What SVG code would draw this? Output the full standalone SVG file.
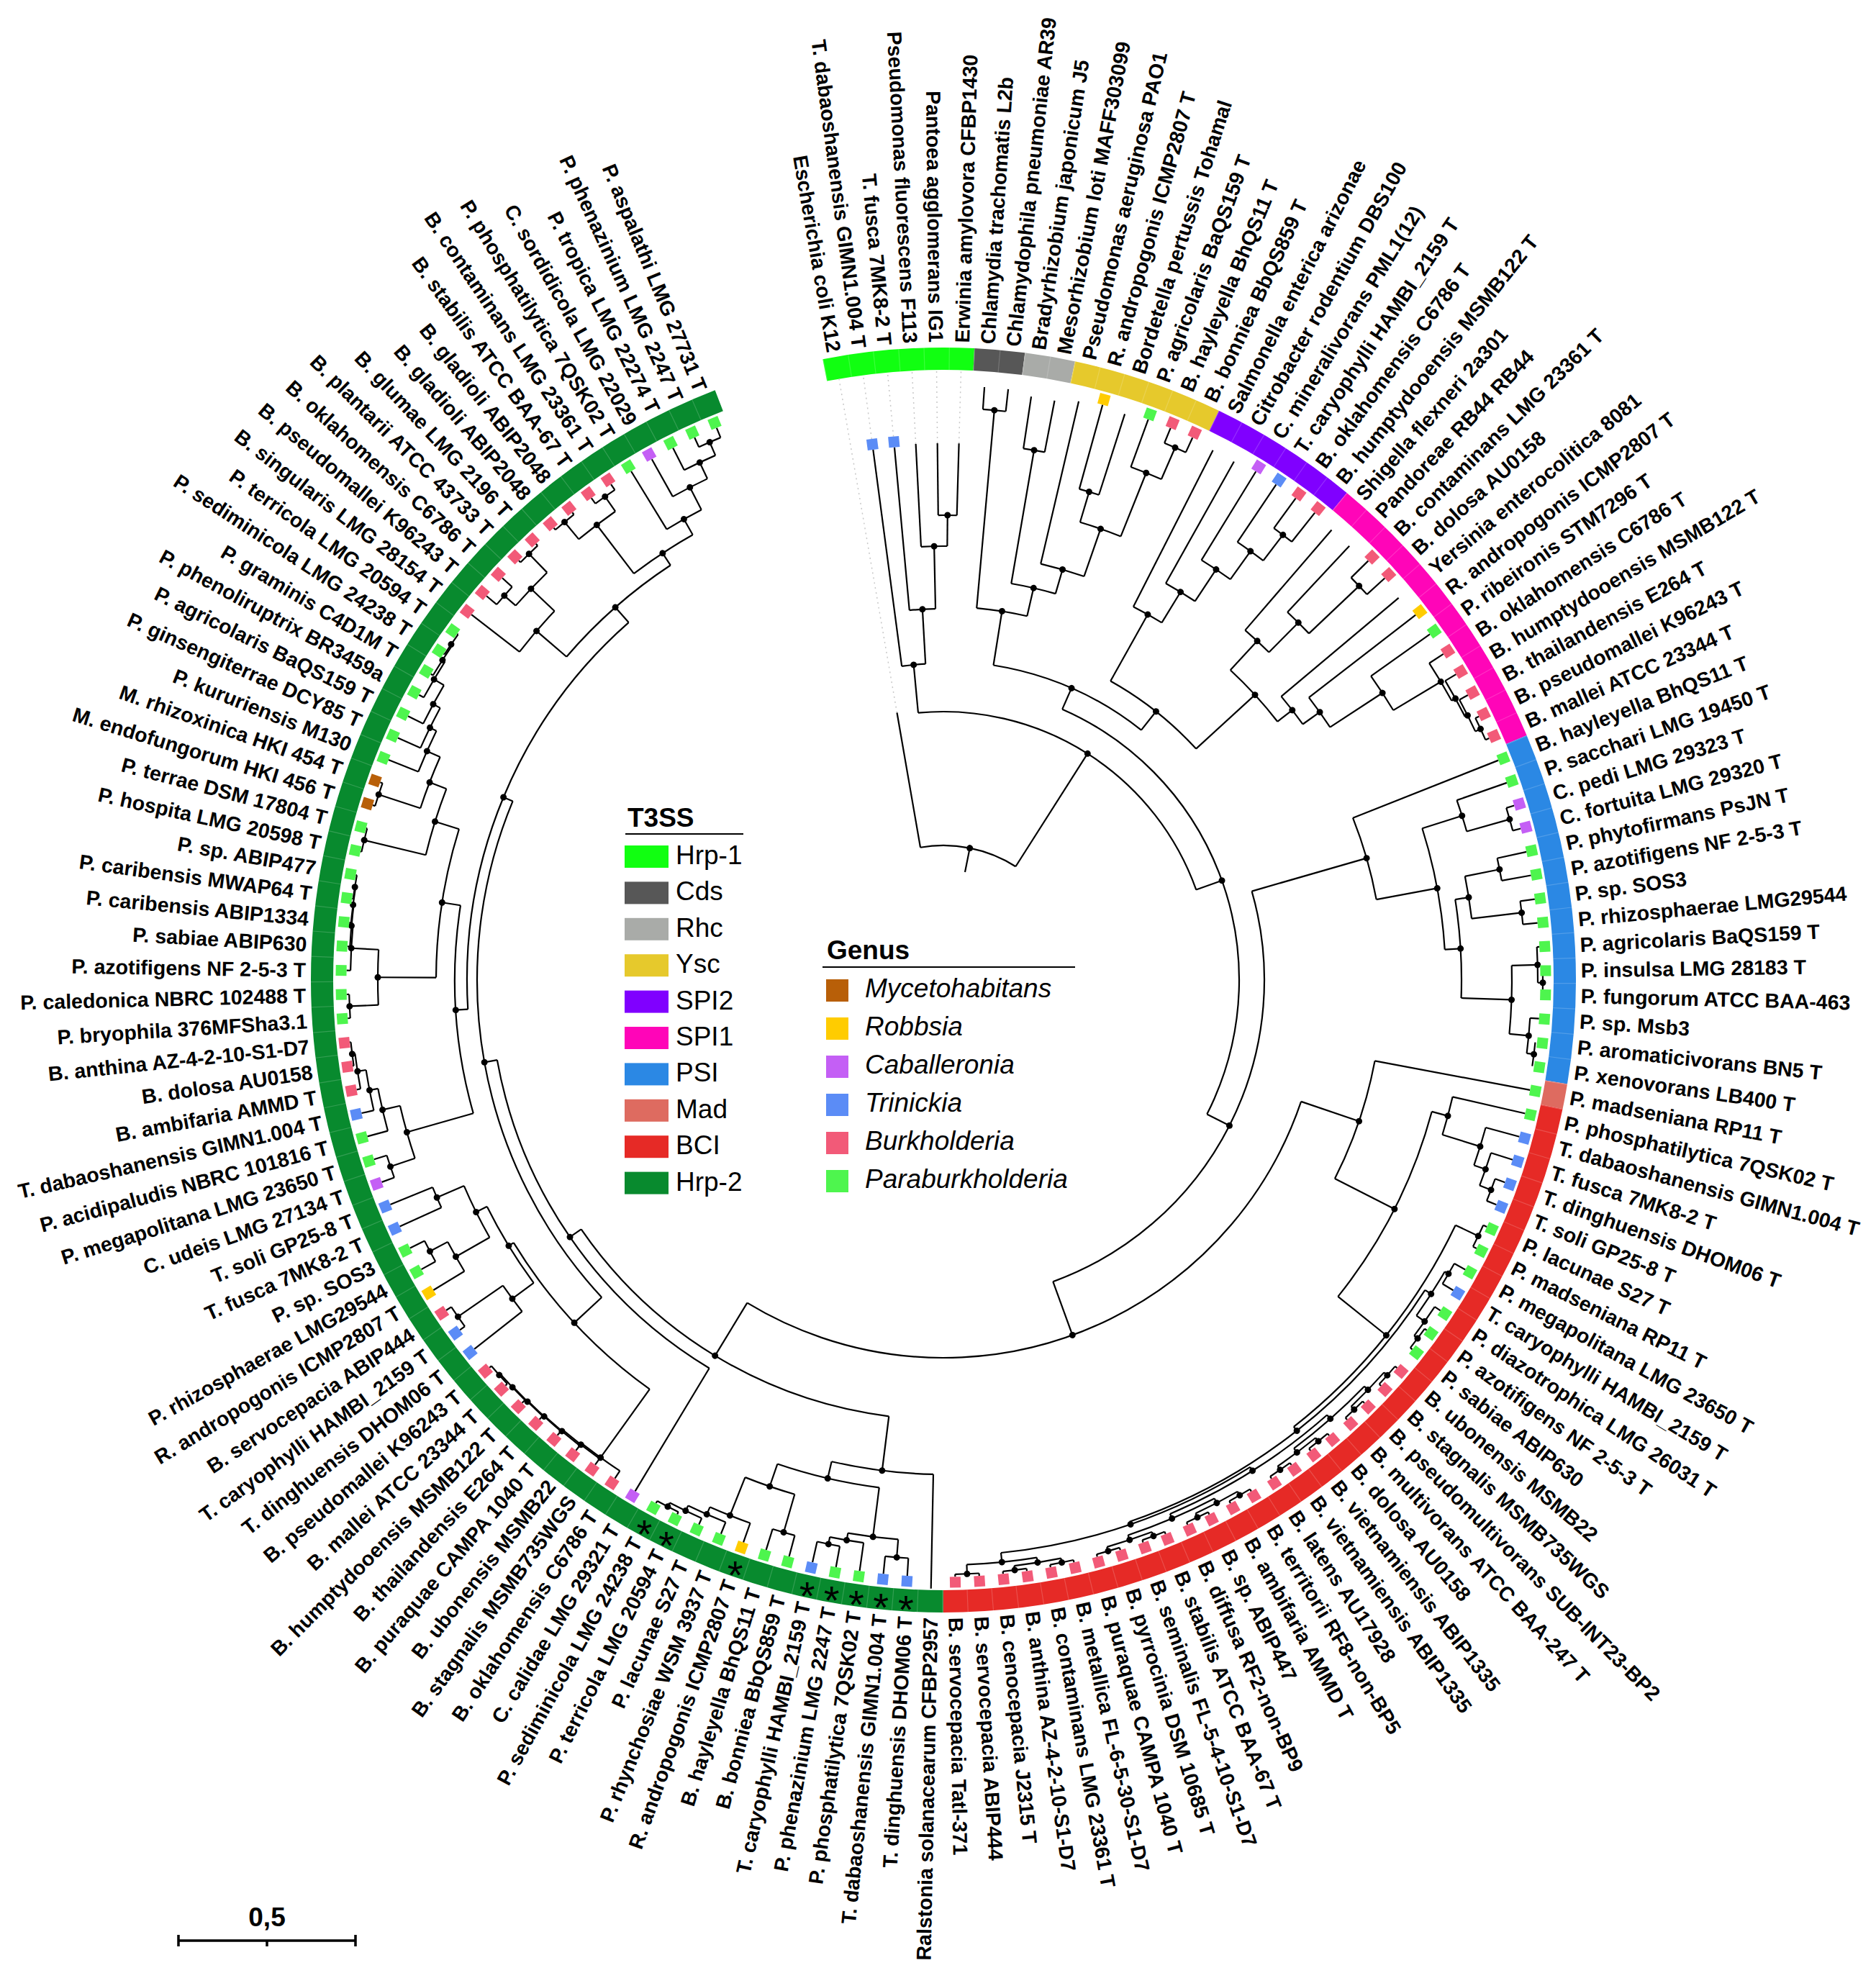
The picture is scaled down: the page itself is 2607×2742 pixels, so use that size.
<svg xmlns="http://www.w3.org/2000/svg" width="2607" height="2742" viewBox="0 0 2607 2742">
<style>
.l{font-family:"Liberation Sans",Arial,sans-serif;font-weight:bold;font-size:28.5px;fill:#000}
.f{text-anchor:end}
.gB{fill:#f25a78}.gP{fill:#4ef54e}.gT{fill:#5b8cf6}.gC{fill:#c45ff5}.gR{fill:#ffcc00}.gM{fill:#b85f08}
.t{fill:none;stroke:#000;stroke-width:2.2}
.d{fill:#000}
.dt{fill:none;stroke:#c8c8c8;stroke-width:1.5;stroke-dasharray:2 5}
.lg{font-family:"Liberation Sans",Arial,sans-serif;font-size:37px;fill:#000}
.lgt{font-family:"Liberation Sans",Arial,sans-serif;font-size:37px;font-weight:bold;fill:#000}
.ast{font-family:"Liberation Sans",Arial,sans-serif;font-size:56px;fill:#000;text-anchor:middle}
</style>
<rect width="2607" height="2742" fill="#fff"/>
<g id="ring" transform="translate(1311 1362)" fill="none" stroke-width="31">
<circle r="863.5" stroke="#11ff11" stroke-dasharray="208.11 6000" transform="rotate(-101)"/>
<circle r="863.5" stroke="#575757" stroke-dasharray="69.37 6000" transform="rotate(-87.1916)"/>
<circle r="863.5" stroke="#a9aba8" stroke-dasharray="69.37 6000" transform="rotate(-82.5888)"/>
<circle r="863.5" stroke="#e6c92c" stroke-dasharray="208.11 6000" transform="rotate(-77.986)"/>
<circle r="863.5" stroke="#8000ff" stroke-dasharray="208.11 6000" transform="rotate(-64.1776)"/>
<circle r="863.5" stroke="#ff05b8" stroke-dasharray="416.22 6000" transform="rotate(-50.3692)"/>
<circle r="863.5" stroke="#2b88e4" stroke-dasharray="485.59 6000" transform="rotate(-22.7524)"/>
<circle r="863.5" stroke="#de6b60" stroke-dasharray="34.685 6000" transform="rotate(9.4672)"/>
<circle r="863.5" stroke="#e62a26" stroke-dasharray="1179.29 6000" transform="rotate(11.7686)"/>
<circle r="863.5" stroke="#088a2e" stroke-dasharray="2393.27 6000" transform="rotate(90.0162)"/>
<circle r="863.5" stroke="#fff" stroke-opacity="0.18" stroke-dasharray="1.2 33.484" transform="rotate(-101)"/>
</g>
<g id="connectors" transform="translate(1311 1362)">
<g class="dt">
<path d="M377 0H848" transform="rotate(-99.85)"/><path d="M758.5 0H848" transform="rotate(-97.55)"/><path d="M758.5 0H848" transform="rotate(-95.25)"/>
<path d="M746 0H848" transform="rotate(-92.95)"/><path d="M746 0H848" transform="rotate(-90.64)"/><path d="M746 0H848" transform="rotate(-88.34)"/>
</g>
<g class="t">
<circle r="646" pathLength="360" stroke-dasharray="2.3 720" transform="rotate(-90.64)"/>
<path d="M646 0H746" transform="rotate(-90.64)"/><path d="M646 0H746" transform="rotate(-88.34)"/>
<circle r="603" pathLength="360" stroke-dasharray="3.46 720" transform="rotate(-92.95)"/>
<path d="M603 0H746" transform="rotate(-92.95)"/><path d="M603 0H646" transform="rotate(-89.49)"/>
<circle r="516" pathLength="360" stroke-dasharray="4.03 720" transform="rotate(-95.25)"/>
<path d="M516 0H743.5" transform="rotate(-95.25)"/><path d="M516 0H603" transform="rotate(-91.22)"/>
<circle r="440" pathLength="360" stroke-dasharray="4.315 720" transform="rotate(-97.55)"/>
<path d="M440 0H743.5" transform="rotate(-97.55)"/><path d="M440 0H516" transform="rotate(-93.235)"/>
<circle r="795" pathLength="360" stroke-dasharray="2.3 720" transform="rotate(-86.04)"/>
<path d="M795 0H826" transform="rotate(-86.04)"/><path d="M795 0H826" transform="rotate(-83.74)"/>
<circle r="747" pathLength="360" stroke-dasharray="2.3 720" transform="rotate(-81.44)"/>
<path d="M747 0H820" transform="rotate(-81.44)"/><path d="M747 0H820" transform="rotate(-79.14)"/>
<circle r="807" pathLength="360" stroke-dasharray="2.3 720" transform="rotate(-67.63)"/>
<path d="M807 0H829.5" transform="rotate(-67.63)"/><path d="M807 0H829.5" transform="rotate(-65.33)"/>
<circle r="759" pathLength="360" stroke-dasharray="3.45 720" transform="rotate(-69.93)"/>
<path d="M759 0H829.5" transform="rotate(-69.93)"/><path d="M759 0H807" transform="rotate(-66.48)"/>
<circle r="708" pathLength="360" stroke-dasharray="2.3 720" transform="rotate(-74.53)"/>
<path d="M708 0H829.5" transform="rotate(-74.53)"/><path d="M708 0H826" transform="rotate(-72.23)"/>
<circle r="664" pathLength="360" stroke-dasharray="5.175 720" transform="rotate(-73.38)"/>
<path d="M664 0H708" transform="rotate(-73.38)"/><path d="M664 0H759" transform="rotate(-68.205)"/>
<circle r="594" pathLength="360" stroke-dasharray="6.05 720" transform="rotate(-76.84)"/>
<path d="M594 0H826" transform="rotate(-76.84)"/><path d="M594 0H664" transform="rotate(-70.79)"/>
<circle r="559" pathLength="360" stroke-dasharray="6.475 720" transform="rotate(-80.29)"/>
<path d="M559 0H747" transform="rotate(-80.29)"/><path d="M559 0H594" transform="rotate(-73.815)"/>
<circle r="519" pathLength="360" stroke-dasharray="7.84 720" transform="rotate(-84.89)"/>
<path d="M519 0H795" transform="rotate(-84.89)"/><path d="M519 0H559" transform="rotate(-77.05)"/>
<circle r="778" pathLength="360" stroke-dasharray="2.3 720" transform="rotate(-53.82)"/>
<path d="M778 0H829.5" transform="rotate(-53.82)"/><path d="M778 0H829.5" transform="rotate(-51.52)"/>
<circle r="733" pathLength="360" stroke-dasharray="3.45 720" transform="rotate(-56.12)"/>
<path d="M733 0H829.5" transform="rotate(-56.12)"/><path d="M733 0H778" transform="rotate(-52.67)"/>
<circle r="685" pathLength="360" stroke-dasharray="4.035 720" transform="rotate(-58.43)"/>
<path d="M685 0H829.5" transform="rotate(-58.43)"/><path d="M685 0H733" transform="rotate(-54.395)"/>
<circle r="632" pathLength="360" stroke-dasharray="4.32 720" transform="rotate(-60.73)"/>
<path d="M632 0H826" transform="rotate(-60.73)"/><path d="M632 0H685" transform="rotate(-56.41)"/>
<circle r="582" pathLength="360" stroke-dasharray="4.46 720" transform="rotate(-63.03)"/>
<path d="M582 0H826" transform="rotate(-63.03)"/><path d="M582 0H632" transform="rotate(-58.57)"/>
<circle r="796" pathLength="360" stroke-dasharray="2.3 720" transform="rotate(-44.62)"/>
<path d="M796 0H829.5" transform="rotate(-44.62)"/><path d="M796 0H829.5" transform="rotate(-42.32)"/>
<circle r="700" pathLength="360" stroke-dasharray="3.45 720" transform="rotate(-46.92)"/>
<path d="M700 0H826" transform="rotate(-46.92)"/><path d="M700 0H796" transform="rotate(-43.47)"/>
<circle r="642" pathLength="360" stroke-dasharray="4.025 720" transform="rotate(-49.22)"/>
<path d="M642 0H826" transform="rotate(-49.22)"/><path d="M642 0H700" transform="rotate(-45.195)"/>
<circle r="824" pathLength="360" stroke-dasharray="2.31 720" transform="rotate(-26.21)"/>
<path d="M824 0H829.5" transform="rotate(-26.21)"/><path d="M824 0H829.5" transform="rotate(-23.9)"/>
<circle r="816" pathLength="360" stroke-dasharray="3.455 720" transform="rotate(-28.51)"/>
<path d="M816 0H829.5" transform="rotate(-28.51)"/><path d="M816 0H824" transform="rotate(-25.055)"/>
<circle r="812" pathLength="360" stroke-dasharray="4.03 720" transform="rotate(-30.81)"/>
<path d="M812 0H829.5" transform="rotate(-30.81)"/><path d="M812 0H816" transform="rotate(-26.78)"/>
<circle r="806" pathLength="360" stroke-dasharray="4.315 720" transform="rotate(-33.11)"/>
<path d="M806 0H829.5" transform="rotate(-33.11)"/><path d="M806 0H812" transform="rotate(-28.795)"/>
<circle r="729" pathLength="360" stroke-dasharray="4.46 720" transform="rotate(-35.41)"/>
<path d="M729 0H829.5" transform="rotate(-35.41)"/><path d="M729 0H806" transform="rotate(-30.95)"/>
<circle r="642" pathLength="360" stroke-dasharray="4.53 720" transform="rotate(-37.71)"/>
<path d="M642 0H829.5" transform="rotate(-37.71)"/><path d="M642 0H729" transform="rotate(-33.18)"/>
<circle r="613" pathLength="360" stroke-dasharray="4.565 720" transform="rotate(-40.01)"/>
<path d="M613 0H826" transform="rotate(-40.01)"/><path d="M613 0H642" transform="rotate(-35.445)"/>
<circle r="587" pathLength="360" stroke-dasharray="9.48 720" transform="rotate(-47.21)"/>
<path d="M587 0H642" transform="rotate(-47.21)"/><path d="M587 0H613" transform="rotate(-37.73)"/>
<circle r="476" pathLength="360" stroke-dasharray="18.33 720" transform="rotate(-60.8)"/>
<path d="M476 0H582" transform="rotate(-60.8)"/><path d="M476 0H587" transform="rotate(-42.47)"/>
<circle r="443" pathLength="360" stroke-dasharray="29.335 720" transform="rotate(-80.97)"/>
<path d="M443 0H519" transform="rotate(-80.97)"/><path d="M443 0H476" transform="rotate(-51.635)"/>
<circle r="411" pathLength="360" stroke-dasharray="93.28 720" transform="rotate(-66.3)"/>
<path d="M411 0H443" transform="rotate(-66.3)"/><path d="M411 0H446" transform="rotate(26.98)"/>
<circle r="373" pathLength="360" stroke-dasharray="75.73 720" transform="rotate(-95.39)"/>
<path d="M373 0H440" transform="rotate(-95.39)"/><path d="M373 0H411" transform="rotate(-19.66)"/>
<circle r="187" pathLength="360" stroke-dasharray="42.325 720" transform="rotate(-99.85)"/>
<path d="M187 0H377" transform="rotate(-99.85)"/><path d="M187 0H373" transform="rotate(-57.525)"/><path d="M153 0H187" transform="rotate(-78.69)"/>
<circle r="446" pathLength="360" stroke-dasharray="86.095 720" transform="rotate(-16.065)"/>
<path d="M446 0H612" transform="rotate(-16.065)"/><path d="M446 0H525" transform="rotate(70.03)"/>
<circle r="612" pathLength="360" stroke-dasharray="11.07 720" transform="rotate(-21.6)"/>
<path d="M612 0H829.5" transform="rotate(-21.6)"/><path d="M612 0H698" transform="rotate(-10.53)"/>
<circle r="818" pathLength="360" stroke-dasharray="2.3 720" transform="rotate(-17)"/>
<path d="M818 0H829.5" transform="rotate(-17)"/><path d="M818 0H829.5" transform="rotate(-14.7)"/>
<circle r="756" pathLength="360" stroke-dasharray="3.45 720" transform="rotate(-19.3)"/>
<path d="M756 0H829.5" transform="rotate(-19.3)"/><path d="M756 0H818" transform="rotate(-15.85)"/>
<circle r="788" pathLength="360" stroke-dasharray="2.3 720" transform="rotate(-12.4)"/>
<path d="M788 0H829.5" transform="rotate(-12.4)"/><path d="M788 0H829.5" transform="rotate(-10.1)"/>
<circle r="809" pathLength="360" stroke-dasharray="2.3 720" transform="rotate(-7.79)"/>
<path d="M809 0H829.5" transform="rotate(-7.79)"/><path d="M809 0H829.5" transform="rotate(-5.49)"/>
<circle r="739" pathLength="360" stroke-dasharray="4.61 720" transform="rotate(-11.25)"/>
<path d="M739 0H788" transform="rotate(-11.25)"/><path d="M739 0H809" transform="rotate(-6.64)"/>
<circle r="833" pathLength="360" stroke-dasharray="2.3 720" transform="rotate(-0.89)"/>
<circle r="826" pathLength="360" stroke-dasharray="3.45 720" transform="rotate(-3.19)"/>
<path d="M826 0H829.5" transform="rotate(-3.19)"/><path d="M826 0H833" transform="rotate(0.26)"/>
<circle r="827" pathLength="360" stroke-dasharray="2.31 720" transform="rotate(6.01)"/>
<circle r="817" pathLength="360" stroke-dasharray="3.455 720" transform="rotate(3.71)"/>
<path d="M817 0H829.5" transform="rotate(3.71)"/><path d="M817 0H827" transform="rotate(7.165)"/>
<circle r="790" pathLength="360" stroke-dasharray="6.905 720" transform="rotate(-1.465)"/>
<path d="M790 0H826" transform="rotate(-1.465)"/><path d="M790 0H817" transform="rotate(5.44)"/>
<circle r="720" pathLength="360" stroke-dasharray="10.935 720" transform="rotate(-8.945)"/>
<path d="M720 0H739" transform="rotate(-8.945)"/><path d="M720 0H790" transform="rotate(1.99)"/>
<circle r="698" pathLength="360" stroke-dasharray="14.095 720" transform="rotate(-17.575)"/>
<path d="M698 0H756" transform="rotate(-17.575)"/><path d="M698 0H720" transform="rotate(-3.48)"/>
<circle r="525" pathLength="360" stroke-dasharray="102.525 720" transform="rotate(18.765)"/>
<path d="M525 0H610" transform="rotate(18.765)"/><path d="M525 0H611" transform="rotate(121.29)"/>
<circle r="610" pathLength="360" stroke-dasharray="16.29 720" transform="rotate(10.62)"/>
<path d="M610 0H829.5" transform="rotate(10.62)"/><path d="M610 0H703" transform="rotate(26.91)"/>
<circle r="703" pathLength="360" stroke-dasharray="23.665 720" transform="rotate(15.075)"/>
<path d="M703 0H726" transform="rotate(15.075)"/><path d="M703 0H789" transform="rotate(38.74)"/>
<circle r="726" pathLength="360" stroke-dasharray="4.31 720" transform="rotate(12.92)"/>
<path d="M726 0H829.5" transform="rotate(12.92)"/><path d="M726 0H781" transform="rotate(17.23)"/>
<circle r="781" pathLength="360" stroke-dasharray="4.025 720" transform="rotate(15.22)"/>
<path d="M781 0H829.5" transform="rotate(15.22)"/><path d="M781 0H798" transform="rotate(19.245)"/>
<circle r="798" pathLength="360" stroke-dasharray="3.45 720" transform="rotate(17.52)"/>
<path d="M798 0H829.5" transform="rotate(17.52)"/><path d="M798 0H815" transform="rotate(20.97)"/>
<circle r="815" pathLength="360" stroke-dasharray="2.3 720" transform="rotate(19.82)"/>
<path d="M815 0H829.5" transform="rotate(19.82)"/><path d="M815 0H829.5" transform="rotate(22.12)"/>
<circle r="789" pathLength="360" stroke-dasharray="26.32 720" transform="rotate(25.58)"/>
<path d="M789 0H824" transform="rotate(25.58)"/><path d="M789 0H796" transform="rotate(51.9)"/>
<circle r="824" pathLength="360" stroke-dasharray="2.3 720" transform="rotate(24.43)"/>
<path d="M824 0H829.5" transform="rotate(24.43)"/><path d="M824 0H829.5" transform="rotate(26.73)"/>
<circle r="796" pathLength="360" stroke-dasharray="38.26 720" transform="rotate(32.77)"/>
<path d="M796 0H806" transform="rotate(32.77)"/><path d="M796 0H800" transform="rotate(71.03)"/>
<circle r="806" pathLength="360" stroke-dasharray="5.175 720" transform="rotate(30.18)"/>
<path d="M806 0H812" transform="rotate(30.18)"/><path d="M806 0H820" transform="rotate(35.355)"/>
<circle r="812" pathLength="360" stroke-dasharray="2.3 720" transform="rotate(29.03)"/>
<path d="M812 0H829.5" transform="rotate(29.03)"/><path d="M812 0H829.5" transform="rotate(31.33)"/>
<circle r="820" pathLength="360" stroke-dasharray="3.45 720" transform="rotate(33.63)"/>
<path d="M820 0H829.5" transform="rotate(33.63)"/><path d="M820 0H826" transform="rotate(37.08)"/>
<circle r="826" pathLength="360" stroke-dasharray="2.3 720" transform="rotate(35.93)"/>
<path d="M826 0H829.5" transform="rotate(35.93)"/><path d="M826 0H829.5" transform="rotate(38.23)"/>
<circle r="826" pathLength="360" stroke-dasharray="2.3 720" transform="rotate(40.54)"/>
<circle r="826" pathLength="360" stroke-dasharray="2.3 720" transform="rotate(45.14)"/>
<circle r="826" pathLength="360" stroke-dasharray="2.3 720" transform="rotate(49.74)"/>
<circle r="826" pathLength="360" stroke-dasharray="2.31 720" transform="rotate(54.34)"/>
<circle r="826" pathLength="360" stroke-dasharray="2.3 720" transform="rotate(58.95)"/>
<circle r="826" pathLength="360" stroke-dasharray="2.3 720" transform="rotate(63.55)"/>
<circle r="826" pathLength="360" stroke-dasharray="2.3 720" transform="rotate(68.15)"/>
<circle r="826" pathLength="360" stroke-dasharray="2.3 720" transform="rotate(72.76)"/>
<circle r="826" pathLength="360" stroke-dasharray="2.3 720" transform="rotate(77.36)"/>
<circle r="826" pathLength="360" stroke-dasharray="2.3 720" transform="rotate(81.96)"/>
<circle r="826" pathLength="360" stroke-dasharray="2.31 720" transform="rotate(86.56)"/>
<circle r="820" pathLength="360" stroke-dasharray="4.6 720" transform="rotate(41.69)"/>
<path d="M820 0H826" transform="rotate(41.69)"/><path d="M820 0H826" transform="rotate(46.29)"/>
<circle r="820" pathLength="360" stroke-dasharray="4.605 720" transform="rotate(50.89)"/>
<path d="M820 0H826" transform="rotate(50.89)"/><path d="M820 0H826" transform="rotate(55.495)"/>
<circle r="820" pathLength="360" stroke-dasharray="4.6 720" transform="rotate(60.1)"/>
<path d="M820 0H826" transform="rotate(60.1)"/><path d="M820 0H826" transform="rotate(64.7)"/>
<circle r="820" pathLength="360" stroke-dasharray="4.61 720" transform="rotate(69.3)"/>
<path d="M820 0H826" transform="rotate(69.3)"/><path d="M820 0H826" transform="rotate(73.91)"/>
<circle r="820" pathLength="360" stroke-dasharray="4.6 720" transform="rotate(78.51)"/>
<path d="M820 0H826" transform="rotate(78.51)"/><path d="M820 0H826" transform="rotate(83.11)"/>
<circle r="813" pathLength="360" stroke-dasharray="9.2 720" transform="rotate(43.99)"/>
<path d="M813 0H820" transform="rotate(43.99)"/><path d="M813 0H820" transform="rotate(53.19)"/>
<circle r="813" pathLength="360" stroke-dasharray="9.205 720" transform="rotate(62.4)"/>
<path d="M813 0H820" transform="rotate(62.4)"/><path d="M813 0H820" transform="rotate(71.605)"/>
<circle r="813" pathLength="360" stroke-dasharray="6.905 720" transform="rotate(80.81)"/>
<path d="M813 0H820" transform="rotate(80.81)"/><path d="M813 0H826" transform="rotate(87.715)"/>
<circle r="806" pathLength="360" stroke-dasharray="18.41 720" transform="rotate(48.59)"/>
<path d="M806 0H813" transform="rotate(48.59)"/><path d="M806 0H813" transform="rotate(67)"/>
<circle r="800" pathLength="360" stroke-dasharray="26.465 720" transform="rotate(57.795)"/>
<path d="M800 0H806" transform="rotate(57.795)"/><path d="M800 0H813" transform="rotate(84.26)"/>
<path d="M826 0H829.5" transform="rotate(40.54)"/><path d="M826 0H829.5" transform="rotate(42.84)"/>
<path d="M826 0H829.5" transform="rotate(45.14)"/><path d="M826 0H829.5" transform="rotate(47.44)"/>
<path d="M826 0H829.5" transform="rotate(49.74)"/><path d="M826 0H829.5" transform="rotate(52.04)"/>
<path d="M826 0H829.5" transform="rotate(54.34)"/><path d="M826 0H829.5" transform="rotate(56.65)"/>
<path d="M826 0H829.5" transform="rotate(58.95)"/><path d="M826 0H829.5" transform="rotate(61.25)"/>
<path d="M826 0H829.5" transform="rotate(63.55)"/><path d="M826 0H829.5" transform="rotate(65.85)"/>
<path d="M826 0H829.5" transform="rotate(68.15)"/><path d="M826 0H829.5" transform="rotate(70.45)"/>
<path d="M826 0H829.5" transform="rotate(72.76)"/><path d="M826 0H829.5" transform="rotate(75.06)"/>
<path d="M826 0H829.5" transform="rotate(77.36)"/><path d="M826 0H829.5" transform="rotate(79.66)"/>
<path d="M826 0H829.5" transform="rotate(81.96)"/><path d="M826 0H829.5" transform="rotate(84.26)"/>
<path d="M826 0H829.5" transform="rotate(86.56)"/><path d="M826 0H829.5" transform="rotate(88.87)"/>
<circle r="611" pathLength="360" stroke-dasharray="48.345 720" transform="rotate(97.12)"/>
<path d="M611 0H687" transform="rotate(97.12)"/><path d="M611 0H630" transform="rotate(145.465)"/>
<circle r="687" pathLength="360" stroke-dasharray="11.9 720" transform="rotate(91.17)"/>
<path d="M687 0H846" transform="rotate(91.17)"/><path d="M687 0H711" transform="rotate(103.07)"/>
<circle r="711" pathLength="360" stroke-dasharray="11.72 720" transform="rotate(97.21)"/>
<path d="M711 0H780" transform="rotate(97.21)"/><path d="M711 0H744" transform="rotate(108.93)"/>
<circle r="780" pathLength="360" stroke-dasharray="5.175 720" transform="rotate(94.62)"/>
<path d="M780 0H805" transform="rotate(94.62)"/><path d="M780 0H790" transform="rotate(99.795)"/>
<circle r="805" pathLength="360" stroke-dasharray="2.3 720" transform="rotate(93.47)"/>
<path d="M805 0H829.5" transform="rotate(93.47)"/><path d="M805 0H829.5" transform="rotate(95.77)"/>
<circle r="790" pathLength="360" stroke-dasharray="3.45 720" transform="rotate(98.07)"/>
<path d="M790 0H829.5" transform="rotate(98.07)"/><path d="M790 0H800" transform="rotate(101.52)"/>
<circle r="800" pathLength="360" stroke-dasharray="2.3 720" transform="rotate(100.37)"/>
<path d="M800 0H829.5" transform="rotate(100.37)"/><path d="M800 0H829.5" transform="rotate(102.67)"/>
<circle r="744" pathLength="360" stroke-dasharray="5.605 720" transform="rotate(106.13)"/>
<path d="M744 0H799" transform="rotate(106.13)"/><path d="M744 0H801" transform="rotate(111.735)"/>
<circle r="799" pathLength="360" stroke-dasharray="2.3 720" transform="rotate(104.98)"/>
<path d="M799 0H829.5" transform="rotate(104.98)"/><path d="M799 0H829.5" transform="rotate(107.28)"/>
<circle r="801" pathLength="360" stroke-dasharray="4.31 720" transform="rotate(109.58)"/>
<path d="M801 0H829.5" transform="rotate(109.58)"/><path d="M801 0H812" transform="rotate(113.89)"/>
<circle r="812" pathLength="360" stroke-dasharray="4.025 720" transform="rotate(111.88)"/>
<path d="M812 0H829.5" transform="rotate(111.88)"/><path d="M812 0H820" transform="rotate(115.905)"/>
<circle r="820" pathLength="360" stroke-dasharray="3.45 720" transform="rotate(114.18)"/>
<path d="M820 0H829.5" transform="rotate(114.18)"/><path d="M820 0H826" transform="rotate(117.63)"/>
<circle r="826" pathLength="360" stroke-dasharray="2.3 720" transform="rotate(116.48)"/>
<path d="M826 0H829.5" transform="rotate(116.48)"/><path d="M826 0H829.5" transform="rotate(118.78)"/>
<circle r="630" pathLength="360" stroke-dasharray="48.75 720" transform="rotate(121.09)"/>
<path d="M630 0H829.5" transform="rotate(121.09)"/><path d="M630 0H648" transform="rotate(169.84)"/>
<circle r="648" pathLength="360" stroke-dasharray="65.445 720" transform="rotate(137.115)"/>
<path d="M648 0H700" transform="rotate(137.115)"/><path d="M648 0H662" transform="rotate(202.56)"/>
<circle r="700" pathLength="360" stroke-dasharray="22.89 720" transform="rotate(125.67)"/>
<path d="M700 0H817" transform="rotate(125.67)"/><path d="M700 0H708" transform="rotate(148.56)"/>
<circle r="817" pathLength="360" stroke-dasharray="4.565 720" transform="rotate(123.39)"/>
<path d="M817 0H829.5" transform="rotate(123.39)"/><path d="M817 0H819" transform="rotate(127.955)"/>
<circle r="819" pathLength="360" stroke-dasharray="4.53 720" transform="rotate(125.69)"/>
<path d="M819 0H829.5" transform="rotate(125.69)"/><path d="M819 0H821" transform="rotate(130.22)"/>
<circle r="821" pathLength="360" stroke-dasharray="4.46 720" transform="rotate(127.99)"/>
<path d="M821 0H829.5" transform="rotate(127.99)"/><path d="M821 0H822" transform="rotate(132.45)"/>
<circle r="822" pathLength="360" stroke-dasharray="4.315 720" transform="rotate(130.29)"/>
<path d="M822 0H829.5" transform="rotate(130.29)"/><path d="M822 0H823" transform="rotate(134.605)"/>
<circle r="823" pathLength="360" stroke-dasharray="4.03 720" transform="rotate(132.59)"/>
<path d="M823 0H829.5" transform="rotate(132.59)"/><path d="M823 0H824" transform="rotate(136.62)"/>
<circle r="824" pathLength="360" stroke-dasharray="3.46 720" transform="rotate(134.89)"/>
<path d="M824 0H829.5" transform="rotate(134.89)"/><path d="M824 0H826" transform="rotate(138.35)"/>
<circle r="826" pathLength="360" stroke-dasharray="2.3 720" transform="rotate(137.2)"/>
<path d="M826 0H829.5" transform="rotate(137.2)"/><path d="M826 0H829.5" transform="rotate(139.5)"/>
<circle r="708" pathLength="360" stroke-dasharray="10.07 720" transform="rotate(143.525)"/>
<path d="M708 0H745" transform="rotate(143.525)"/><path d="M708 0H725" transform="rotate(153.595)"/>
<circle r="745" pathLength="360" stroke-dasharray="3.45 720" transform="rotate(141.8)"/>
<path d="M745 0H829.5" transform="rotate(141.8)"/><path d="M745 0H821" transform="rotate(145.25)"/>
<circle r="821" pathLength="360" stroke-dasharray="2.3 720" transform="rotate(144.1)"/>
<path d="M821 0H829.5" transform="rotate(144.1)"/><path d="M821 0H829.5" transform="rotate(146.4)"/>
<circle r="725" pathLength="360" stroke-dasharray="6.33 720" transform="rotate(150.43)"/>
<path d="M725 0H779" transform="rotate(150.43)"/><path d="M725 0H766" transform="rotate(156.76)"/>
<circle r="779" pathLength="360" stroke-dasharray="3.455 720" transform="rotate(148.7)"/>
<path d="M779 0H829.5" transform="rotate(148.7)"/><path d="M779 0H807" transform="rotate(152.155)"/>
<circle r="807" pathLength="360" stroke-dasharray="2.31 720" transform="rotate(151)"/>
<path d="M807 0H829.5" transform="rotate(151)"/><path d="M807 0H829.5" transform="rotate(153.31)"/>
<circle r="766" pathLength="360" stroke-dasharray="2.3 720" transform="rotate(155.61)"/>
<path d="M766 0H829.5" transform="rotate(155.61)"/><path d="M766 0H829.5" transform="rotate(157.91)"/>
<circle r="662" pathLength="360" stroke-dasharray="52.165 720" transform="rotate(176.48)"/>
<path d="M662 0H679" transform="rotate(176.48)"/><path d="M662 0H690" transform="rotate(228.645)"/>
<circle r="679" pathLength="360" stroke-dasharray="24.625 720" transform="rotate(164.165)"/>
<path d="M679 0H775" transform="rotate(164.165)"/><path d="M679 0H705" transform="rotate(188.79)"/>
<circle r="775" pathLength="360" stroke-dasharray="5.61 720" transform="rotate(161.36)"/>
<path d="M775 0H811" transform="rotate(161.36)"/><path d="M775 0H800" transform="rotate(166.97)"/>
<circle r="811" pathLength="360" stroke-dasharray="2.3 720" transform="rotate(160.21)"/>
<path d="M811 0H829.5" transform="rotate(160.21)"/><path d="M811 0H829.5" transform="rotate(162.51)"/>
<circle r="800" pathLength="360" stroke-dasharray="4.32 720" transform="rotate(164.81)"/>
<path d="M800 0H829.5" transform="rotate(164.81)"/><path d="M800 0H812" transform="rotate(169.13)"/>
<circle r="812" pathLength="360" stroke-dasharray="4.035 720" transform="rotate(167.11)"/>
<path d="M812 0H829.5" transform="rotate(167.11)"/><path d="M812 0H824" transform="rotate(171.145)"/>
<circle r="824" pathLength="360" stroke-dasharray="3.45 720" transform="rotate(169.42)"/>
<path d="M824 0H829.5" transform="rotate(169.42)"/><path d="M824 0H828" transform="rotate(172.87)"/>
<circle r="828" pathLength="360" stroke-dasharray="2.3 720" transform="rotate(171.72)"/>
<path d="M828 0H829.5" transform="rotate(171.72)"/><path d="M828 0H829.5" transform="rotate(174.02)"/>
<circle r="705" pathLength="360" stroke-dasharray="17.035 720" transform="rotate(180.275)"/>
<path d="M705 0H786" transform="rotate(180.275)"/><path d="M705 0H740" transform="rotate(197.31)"/>
<circle r="786" pathLength="360" stroke-dasharray="5.61 720" transform="rotate(177.47)"/>
<path d="M786 0H826" transform="rotate(177.47)"/><path d="M786 0H824" transform="rotate(183.08)"/>
<circle r="826" pathLength="360" stroke-dasharray="2.3 720" transform="rotate(176.32)"/>
<path d="M826 0H829.5" transform="rotate(176.32)"/><path d="M826 0H829.5" transform="rotate(178.62)"/>
<circle r="824" pathLength="360" stroke-dasharray="4.32 720" transform="rotate(180.92)"/>
<path d="M824 0H829.5" transform="rotate(180.92)"/><path d="M824 0H826" transform="rotate(185.24)"/>
<circle r="826" pathLength="360" stroke-dasharray="4.025 720" transform="rotate(183.23)"/>
<path d="M826 0H829.5" transform="rotate(183.23)"/><path d="M826 0H827" transform="rotate(187.255)"/>
<circle r="827" pathLength="360" stroke-dasharray="3.45 720" transform="rotate(185.53)"/>
<path d="M827 0H829.5" transform="rotate(185.53)"/><path d="M827 0H828" transform="rotate(188.98)"/>
<circle r="828" pathLength="360" stroke-dasharray="2.3 720" transform="rotate(187.83)"/>
<path d="M828 0H829.5" transform="rotate(187.83)"/><path d="M828 0H829.5" transform="rotate(190.13)"/>
<circle r="740" pathLength="360" stroke-dasharray="7.465 720" transform="rotate(193.58)"/>
<path d="M740 0H828" transform="rotate(193.58)"/><path d="M740 0H765" transform="rotate(201.045)"/>
<circle r="828" pathLength="360" stroke-dasharray="2.3 720" transform="rotate(192.43)"/>
<path d="M828 0H829.5" transform="rotate(192.43)"/><path d="M828 0H829.5" transform="rotate(194.73)"/>
<circle r="765" pathLength="360" stroke-dasharray="5.72 720" transform="rotate(198.185)"/>
<path d="M765 0H826" transform="rotate(198.185)"/><path d="M765 0H785" transform="rotate(203.905)"/>
<circle r="826" pathLength="360" stroke-dasharray="2.31 720" transform="rotate(197.03)"/>
<path d="M826 0H829.5" transform="rotate(197.03)"/><path d="M826 0H829.5" transform="rotate(199.34)"/>
<circle r="785" pathLength="360" stroke-dasharray="4.53 720" transform="rotate(201.64)"/>
<path d="M785 0H829.5" transform="rotate(201.64)"/><path d="M785 0H795" transform="rotate(206.17)"/>
<circle r="795" pathLength="360" stroke-dasharray="4.46 720" transform="rotate(203.94)"/>
<path d="M795 0H829.5" transform="rotate(203.94)"/><path d="M795 0H806" transform="rotate(208.4)"/>
<circle r="806" pathLength="360" stroke-dasharray="4.315 720" transform="rotate(206.24)"/>
<path d="M806 0H829.5" transform="rotate(206.24)"/><path d="M806 0H822" transform="rotate(210.555)"/>
<circle r="822" pathLength="360" stroke-dasharray="4.03 720" transform="rotate(208.54)"/>
<path d="M822 0H829.5" transform="rotate(208.54)"/><path d="M822 0H826" transform="rotate(212.57)"/>
<circle r="826" pathLength="360" stroke-dasharray="3.455 720" transform="rotate(210.84)"/>
<path d="M826 0H829.5" transform="rotate(210.84)"/><path d="M826 0H828" transform="rotate(214.295)"/>
<circle r="828" pathLength="360" stroke-dasharray="2.31 720" transform="rotate(213.14)"/>
<path d="M828 0H829.5" transform="rotate(213.14)"/><path d="M828 0H829.5" transform="rotate(215.45)"/>
<circle r="690" pathLength="360" stroke-dasharray="16.04 720" transform="rotate(220.625)"/>
<path d="M690 0H745" transform="rotate(220.625)"/><path d="M690 0H710" transform="rotate(236.665)"/>
<circle r="745" pathLength="360" stroke-dasharray="5.75 720" transform="rotate(217.75)"/>
<path d="M745 0H829.5" transform="rotate(217.75)"/><path d="M745 0H790" transform="rotate(223.5)"/>
<circle r="790" pathLength="360" stroke-dasharray="4.6 720" transform="rotate(221.2)"/>
<path d="M790 0H811" transform="rotate(221.2)"/><path d="M790 0H826" transform="rotate(225.8)"/>
<circle r="811" pathLength="360" stroke-dasharray="2.3 720" transform="rotate(220.05)"/>
<path d="M811 0H829.5" transform="rotate(220.05)"/><path d="M811 0H829.5" transform="rotate(222.35)"/>
<circle r="826" pathLength="360" stroke-dasharray="2.3 720" transform="rotate(224.65)"/>
<path d="M826 0H829.5" transform="rotate(224.65)"/><path d="M826 0H829.5" transform="rotate(226.95)"/>
<circle r="710" pathLength="360" stroke-dasharray="7.91 720" transform="rotate(232.71)"/>
<path d="M710 0H795" transform="rotate(232.71)"/><path d="M710 0H735" transform="rotate(240.62)"/>
<circle r="795" pathLength="360" stroke-dasharray="4.605 720" transform="rotate(230.405)"/>
<path d="M795 0H826" transform="rotate(230.405)"/><path d="M795 0H820" transform="rotate(235.01)"/>
<circle r="826" pathLength="360" stroke-dasharray="2.31 720" transform="rotate(229.25)"/>
<path d="M826 0H829.5" transform="rotate(229.25)"/><path d="M826 0H829.5" transform="rotate(231.56)"/>
<circle r="820" pathLength="360" stroke-dasharray="2.3 720" transform="rotate(233.86)"/>
<path d="M820 0H829.5" transform="rotate(233.86)"/><path d="M820 0H829.5" transform="rotate(236.16)"/>
<circle r="735" pathLength="360" stroke-dasharray="4.315 720" transform="rotate(238.46)"/>
<path d="M735 0H829.5" transform="rotate(238.46)"/><path d="M735 0H770" transform="rotate(242.775)"/>
<circle r="770" pathLength="360" stroke-dasharray="4.03 720" transform="rotate(240.76)"/>
<path d="M770 0H829.5" transform="rotate(240.76)"/><path d="M770 0H795" transform="rotate(244.79)"/>
<circle r="795" pathLength="360" stroke-dasharray="3.455 720" transform="rotate(243.06)"/>
<path d="M795 0H829.5" transform="rotate(243.06)"/><path d="M795 0H815" transform="rotate(246.515)"/>
<circle r="815" pathLength="360" stroke-dasharray="2.31 720" transform="rotate(245.36)"/>
<path d="M815 0H829.5" transform="rotate(245.36)"/><path d="M815 0H829.5" transform="rotate(247.67)"/>
</g>
<g class="d">
<circle cx="646" r="4.5" transform="rotate(-89.49)"/><circle cx="603" r="4.5" transform="rotate(-91.22)"/><circle cx="516" r="4.5" transform="rotate(-93.235)"/><circle cx="440" r="4.5" transform="rotate(-95.39)"/>
<circle cx="795" r="4.5" transform="rotate(-84.89)"/><circle cx="747" r="4.5" transform="rotate(-80.29)"/><circle cx="807" r="4.5" transform="rotate(-66.48)"/><circle cx="759" r="4.5" transform="rotate(-68.205)"/>
<circle cx="708" r="4.5" transform="rotate(-73.38)"/><circle cx="664" r="4.5" transform="rotate(-70.79)"/><circle cx="594" r="4.5" transform="rotate(-73.815)"/><circle cx="559" r="4.5" transform="rotate(-77.05)"/>
<circle cx="519" r="4.5" transform="rotate(-80.97)"/><circle cx="778" r="4.5" transform="rotate(-52.67)"/><circle cx="733" r="4.5" transform="rotate(-54.395)"/><circle cx="685" r="4.5" transform="rotate(-56.41)"/>
<circle cx="632" r="4.5" transform="rotate(-58.57)"/><circle cx="582" r="4.5" transform="rotate(-60.8)"/><circle cx="796" r="4.5" transform="rotate(-43.47)"/><circle cx="700" r="4.5" transform="rotate(-45.195)"/>
<circle cx="642" r="4.5" transform="rotate(-47.21)"/><circle cx="824" r="4.5" transform="rotate(-25.055)"/><circle cx="816" r="4.5" transform="rotate(-26.78)"/><circle cx="812" r="4.5" transform="rotate(-28.795)"/>
<circle cx="806" r="4.5" transform="rotate(-30.95)"/><circle cx="729" r="4.5" transform="rotate(-33.18)"/><circle cx="642" r="4.5" transform="rotate(-35.445)"/><circle cx="613" r="4.5" transform="rotate(-37.73)"/>
<circle cx="587" r="4.5" transform="rotate(-42.47)"/><circle cx="476" r="4.5" transform="rotate(-51.635)"/><circle cx="443" r="4.5" transform="rotate(-66.3)"/><circle cx="411" r="4.5" transform="rotate(-19.66)"/>
<circle cx="373" r="4.5" transform="rotate(-57.525)"/><circle cx="187" r="4.5" transform="rotate(-78.69)"/><circle cx="446" r="4.5" transform="rotate(26.98)"/><circle cx="612" r="4.5" transform="rotate(-16.065)"/>
<circle cx="818" r="4.5" transform="rotate(-15.85)"/><circle cx="756" r="4.5" transform="rotate(-17.575)"/><circle cx="788" r="4.5" transform="rotate(-11.25)"/><circle cx="809" r="4.5" transform="rotate(-6.64)"/>
<circle cx="739" r="4.5" transform="rotate(-8.945)"/><circle cx="833" r="4.5" transform="rotate(0.26)"/><circle cx="826" r="4.5" transform="rotate(-1.465)"/><circle cx="827" r="4.5" transform="rotate(7.165)"/>
<circle cx="817" r="4.5" transform="rotate(5.44)"/><circle cx="790" r="4.5" transform="rotate(1.99)"/><circle cx="720" r="4.5" transform="rotate(-3.48)"/><circle cx="698" r="4.5" transform="rotate(-10.53)"/>
<circle cx="525" r="4.5" transform="rotate(70.03)"/><circle cx="610" r="4.5" transform="rotate(18.765)"/><circle cx="703" r="4.5" transform="rotate(26.91)"/><circle cx="726" r="4.5" transform="rotate(15.075)"/>
<circle cx="781" r="4.5" transform="rotate(17.23)"/><circle cx="798" r="4.5" transform="rotate(19.245)"/><circle cx="815" r="4.5" transform="rotate(20.97)"/><circle cx="789" r="4.5" transform="rotate(38.74)"/>
<circle cx="824" r="4.5" transform="rotate(25.58)"/><circle cx="796" r="4.5" transform="rotate(51.9)"/><circle cx="806" r="4.5" transform="rotate(32.77)"/><circle cx="812" r="4.5" transform="rotate(30.18)"/>
<circle cx="820" r="4.5" transform="rotate(35.355)"/><circle cx="826" r="4.5" transform="rotate(37.08)"/>
<circle cx="826" r="4.5" transform="rotate(41.69)"/><circle cx="826" r="4.5" transform="rotate(46.29)"/><circle cx="826" r="4.5" transform="rotate(50.89)"/><circle cx="826" r="4.5" transform="rotate(55.495)"/>
<circle cx="826" r="4.5" transform="rotate(60.1)"/><circle cx="826" r="4.5" transform="rotate(64.7)"/><circle cx="826" r="4.5" transform="rotate(69.3)"/><circle cx="826" r="4.5" transform="rotate(73.91)"/>
<circle cx="826" r="4.5" transform="rotate(78.51)"/><circle cx="826" r="4.5" transform="rotate(83.11)"/><circle cx="826" r="4.5" transform="rotate(87.715)"/>
<circle cx="820" r="4.5" transform="rotate(43.99)"/><circle cx="820" r="4.5" transform="rotate(53.19)"/><circle cx="820" r="4.5" transform="rotate(62.4)"/><circle cx="820" r="4.5" transform="rotate(71.605)"/><circle cx="820" r="4.5" transform="rotate(80.81)"/>
<circle cx="813" r="4.5" transform="rotate(48.59)"/><circle cx="813" r="4.5" transform="rotate(67)"/><circle cx="813" r="4.5" transform="rotate(84.26)"/><circle cx="806" r="4.5" transform="rotate(57.795)"/><circle cx="800" r="4.5" transform="rotate(71.03)"/>
<circle cx="611" r="4.5" transform="rotate(121.29)"/><circle cx="687" r="4.5" transform="rotate(97.12)"/><circle cx="711" r="4.5" transform="rotate(103.07)"/><circle cx="780" r="4.5" transform="rotate(97.21)"/>
<circle cx="805" r="4.5" transform="rotate(94.62)"/><circle cx="790" r="4.5" transform="rotate(99.795)"/><circle cx="800" r="4.5" transform="rotate(101.52)"/><circle cx="744" r="4.5" transform="rotate(108.93)"/>
<circle cx="799" r="4.5" transform="rotate(106.13)"/><circle cx="801" r="4.5" transform="rotate(111.735)"/><circle cx="812" r="4.5" transform="rotate(113.89)"/><circle cx="820" r="4.5" transform="rotate(115.905)"/>
<circle cx="826" r="4.5" transform="rotate(117.63)"/><circle cx="630" r="4.5" transform="rotate(145.465)"/><circle cx="648" r="4.5" transform="rotate(169.84)"/><circle cx="700" r="4.5" transform="rotate(137.115)"/>
<circle cx="817" r="4.5" transform="rotate(125.67)"/><circle cx="819" r="4.5" transform="rotate(127.955)"/><circle cx="821" r="4.5" transform="rotate(130.22)"/><circle cx="822" r="4.5" transform="rotate(132.45)"/>
<circle cx="823" r="4.5" transform="rotate(134.605)"/><circle cx="824" r="4.5" transform="rotate(136.62)"/><circle cx="826" r="4.5" transform="rotate(138.35)"/><circle cx="708" r="4.5" transform="rotate(148.56)"/>
<circle cx="745" r="4.5" transform="rotate(143.525)"/><circle cx="821" r="4.5" transform="rotate(145.25)"/><circle cx="725" r="4.5" transform="rotate(153.595)"/><circle cx="779" r="4.5" transform="rotate(150.43)"/>
<circle cx="807" r="4.5" transform="rotate(152.155)"/><circle cx="766" r="4.5" transform="rotate(156.76)"/><circle cx="662" r="4.5" transform="rotate(202.56)"/><circle cx="679" r="4.5" transform="rotate(176.48)"/>
<circle cx="775" r="4.5" transform="rotate(164.165)"/><circle cx="811" r="4.5" transform="rotate(161.36)"/><circle cx="800" r="4.5" transform="rotate(166.97)"/><circle cx="812" r="4.5" transform="rotate(169.13)"/>
<circle cx="824" r="4.5" transform="rotate(171.145)"/><circle cx="828" r="4.5" transform="rotate(172.87)"/><circle cx="705" r="4.5" transform="rotate(188.79)"/><circle cx="786" r="4.5" transform="rotate(180.275)"/>
<circle cx="826" r="4.5" transform="rotate(177.47)"/><circle cx="824" r="4.5" transform="rotate(183.08)"/><circle cx="826" r="4.5" transform="rotate(185.24)"/><circle cx="827" r="4.5" transform="rotate(187.255)"/>
<circle cx="828" r="4.5" transform="rotate(188.98)"/><circle cx="740" r="4.5" transform="rotate(197.31)"/><circle cx="828" r="4.5" transform="rotate(193.58)"/><circle cx="765" r="4.5" transform="rotate(201.045)"/>
<circle cx="826" r="4.5" transform="rotate(198.185)"/><circle cx="785" r="4.5" transform="rotate(203.905)"/><circle cx="795" r="4.5" transform="rotate(206.17)"/><circle cx="806" r="4.5" transform="rotate(208.4)"/>
<circle cx="822" r="4.5" transform="rotate(210.555)"/><circle cx="826" r="4.5" transform="rotate(212.57)"/><circle cx="828" r="4.5" transform="rotate(214.295)"/><circle cx="690" r="4.5" transform="rotate(228.645)"/>
<circle cx="745" r="4.5" transform="rotate(220.625)"/><circle cx="790" r="4.5" transform="rotate(223.5)"/><circle cx="811" r="4.5" transform="rotate(221.2)"/><circle cx="826" r="4.5" transform="rotate(225.8)"/>
<circle cx="710" r="4.5" transform="rotate(236.665)"/><circle cx="795" r="4.5" transform="rotate(232.71)"/><circle cx="826" r="4.5" transform="rotate(230.405)"/><circle cx="820" r="4.5" transform="rotate(235.01)"/>
<circle cx="735" r="4.5" transform="rotate(240.62)"/><circle cx="770" r="4.5" transform="rotate(242.775)"/><circle cx="795" r="4.5" transform="rotate(244.79)"/><circle cx="815" r="4.5" transform="rotate(246.515)"/>
</g>
</g>
<g id="leaves" transform="translate(1311 1362)">
<g id="n0" transform="rotate(-99.85)"><text class="l f" x="-886" dy=".36em" transform="rotate(180)">Escherichia coli K12</text></g>
<g id="n1" transform="rotate(-97.55)"><rect class="gT" x="743.5" y="-7.5" width="15" height="15"/><text class="l f" x="-886" dy=".36em" transform="rotate(180)">T. dabaoshanensis GIMN1.004 T</text></g>
<g id="n2" transform="rotate(-95.25)"><rect class="gT" x="743.5" y="-7.5" width="15" height="15"/><text class="l f" x="-886" dy=".36em" transform="rotate(180)">T. fusca 7MK8-2 T</text></g>
<g id="n3" transform="rotate(-92.95)"><text class="l f" x="-886" dy=".36em" transform="rotate(180)">Pseudomonas fluorescens F113</text></g>
<g id="n4" transform="rotate(-90.64)"><text class="l f" x="-886" dy=".36em" transform="rotate(180)">Pantoea agglomerans IG1</text></g>
<g id="n5" transform="rotate(-88.34)"><text class="l" x="886" dy=".36em">Erwinia amylovora CFBP1430</text></g>
<g id="n6" transform="rotate(-86.04)"><text class="l" x="886" dy=".36em">Chlamydia trachomatis L2b</text></g>
<g id="n7" transform="rotate(-83.74)"><text class="l" x="886" dy=".36em">Chlamydophila pneumoniae AR39</text></g>
<g id="n8" transform="rotate(-81.44)"><text class="l" x="886" dy=".36em">Bradyrhizobium japonicum J5</text></g>
<g id="n9" transform="rotate(-79.14)"><text class="l" x="886" dy=".36em">Mesorhizobium loti MAFF303099</text></g>
<g id="n10" transform="rotate(-76.84)"><text class="l" x="886" dy=".36em">Pseudomonas aeruginosa PAO1</text></g>
<g id="n11" transform="rotate(-74.53)"><rect class="gR" x="829.5" y="-7.5" width="15" height="15"/><text class="l" x="886" dy=".36em">R. andropogonis ICMP2807 T</text></g>
<g id="n12" transform="rotate(-72.23)"><text class="l" x="886" dy=".36em">Bordetella pertussis Tohamal</text></g>
<g id="n13" transform="rotate(-69.93)"><rect class="gP" x="829.5" y="-7.5" width="15" height="15"/><text class="l" x="886" dy=".36em">P. agricolaris BaQS159 T</text></g>
<g id="n14" transform="rotate(-67.63)"><rect class="gB" x="829.5" y="-7.5" width="15" height="15"/><text class="l" x="886" dy=".36em">B. hayleyella BhQS11 T</text></g>
<g id="n15" transform="rotate(-65.33)"><rect class="gB" x="829.5" y="-7.5" width="15" height="15"/><text class="l" x="886" dy=".36em">B. bonniea BbQS859 T</text></g>
<g id="n16" transform="rotate(-63.03)"><text class="l" x="886" dy=".36em">Salmonella enterica arizonae</text></g>
<g id="n17" transform="rotate(-60.73)"><text class="l" x="886" dy=".36em">Citrobacter rodentium DBS100</text></g>
<g id="n18" transform="rotate(-58.43)"><rect class="gC" x="829.5" y="-7.5" width="15" height="15"/><text class="l" x="886" dy=".36em">C. mineralivorans PML1(12)</text></g>
<g id="n19" transform="rotate(-56.12)"><rect class="gT" x="829.5" y="-7.5" width="15" height="15"/><text class="l" x="886" dy=".36em">T. caryophylli HAMBI_2159 T</text></g>
<g id="n20" transform="rotate(-53.82)"><rect class="gB" x="829.5" y="-7.5" width="15" height="15"/><text class="l" x="886" dy=".36em">B. oklahomensis C6786 T</text></g>
<g id="n21" transform="rotate(-51.52)"><rect class="gB" x="829.5" y="-7.5" width="15" height="15"/><text class="l" x="886" dy=".36em">B. humptydooensis MSMB122 T</text></g>
<g id="n22" transform="rotate(-49.22)"><text class="l" x="886" dy=".36em">Shigella flexneri 2a301</text></g>
<g id="n23" transform="rotate(-46.92)"><text class="l" x="886" dy=".36em">Pandoreae RB44 RB44</text></g>
<g id="n24" transform="rotate(-44.62)"><rect class="gB" x="829.5" y="-7.5" width="15" height="15"/><text class="l" x="886" dy=".36em">B. contaminans LMG 23361 T</text></g>
<g id="n25" transform="rotate(-42.32)"><rect class="gB" x="829.5" y="-7.5" width="15" height="15"/><text class="l" x="886" dy=".36em">B. dolosa AU0158</text></g>
<g id="n26" transform="rotate(-40.01)"><text class="l" x="886" dy=".36em">Yersinia enterocolitica 8081</text></g>
<g id="n27" transform="rotate(-37.71)"><rect class="gR" x="829.5" y="-7.5" width="15" height="15"/><text class="l" x="886" dy=".36em">R. andropogonis ICMP2807 T</text></g>
<g id="n28" transform="rotate(-35.41)"><rect class="gP" x="829.5" y="-7.5" width="15" height="15"/><text class="l" x="886" dy=".36em">P. ribeironis STM7296 T</text></g>
<g id="n29" transform="rotate(-33.11)"><rect class="gB" x="829.5" y="-7.5" width="15" height="15"/><text class="l" x="886" dy=".36em">B. oklahomensis C6786 T</text></g>
<g id="n30" transform="rotate(-30.81)"><rect class="gB" x="829.5" y="-7.5" width="15" height="15"/><text class="l" x="886" dy=".36em">B. humptydooensis MSMB122 T</text></g>
<g id="n31" transform="rotate(-28.51)"><rect class="gB" x="829.5" y="-7.5" width="15" height="15"/><text class="l" x="886" dy=".36em">B. thailandensis E264 T</text></g>
<g id="n32" transform="rotate(-26.21)"><rect class="gB" x="829.5" y="-7.5" width="15" height="15"/><text class="l" x="886" dy=".36em">B. pseudomallei K96243 T</text></g>
<g id="n33" transform="rotate(-23.9)"><rect class="gB" x="829.5" y="-7.5" width="15" height="15"/><text class="l" x="886" dy=".36em">B. mallei ATCC 23344 T</text></g>
<g id="n34" transform="rotate(-21.6)"><rect class="gP" x="829.5" y="-7.5" width="15" height="15"/><text class="l" x="886" dy=".36em">B. hayleyella BhQS11 T</text></g>
<g id="n35" transform="rotate(-19.3)"><rect class="gP" x="829.5" y="-7.5" width="15" height="15"/><text class="l" x="886" dy=".36em">P. sacchari LMG 19450 T</text></g>
<g id="n36" transform="rotate(-17)"><rect class="gC" x="829.5" y="-7.5" width="15" height="15"/><text class="l" x="886" dy=".36em">C. pedi LMG 29323 T</text></g>
<g id="n37" transform="rotate(-14.7)"><rect class="gC" x="829.5" y="-7.5" width="15" height="15"/><text class="l" x="886" dy=".36em">C. fortuita LMG 29320 T</text></g>
<g id="n38" transform="rotate(-12.4)"><rect class="gP" x="829.5" y="-7.5" width="15" height="15"/><text class="l" x="886" dy=".36em">P. phytofirmans PsJN T</text></g>
<g id="n39" transform="rotate(-10.1)"><rect class="gP" x="829.5" y="-7.5" width="15" height="15"/><text class="l" x="886" dy=".36em">P. azotifigens NF 2-5-3 T</text></g>
<g id="n40" transform="rotate(-7.79)"><rect class="gP" x="829.5" y="-7.5" width="15" height="15"/><text class="l" x="886" dy=".36em">P. sp. SOS3</text></g>
<g id="n41" transform="rotate(-5.49)"><rect class="gP" x="829.5" y="-7.5" width="15" height="15"/><text class="l" x="886" dy=".36em">P. rhizosphaerae LMG29544</text></g>
<g id="n42" transform="rotate(-3.19)"><rect class="gP" x="829.5" y="-7.5" width="15" height="15"/><text class="l" x="886" dy=".36em">P. agricolaris BaQS159 T</text></g>
<g id="n43" transform="rotate(-0.89)"><rect class="gP" x="829.5" y="-7.5" width="15" height="15"/><text class="l" x="886" dy=".36em">P. insulsa LMG 28183 T</text></g>
<g id="n44" transform="rotate(1.41)"><rect class="gP" x="829.5" y="-7.5" width="15" height="15"/><text class="l" x="886" dy=".36em">P. fungorum ATCC BAA-463</text></g>
<g id="n45" transform="rotate(3.71)"><rect class="gP" x="829.5" y="-7.5" width="15" height="15"/><text class="l" x="886" dy=".36em">P. sp. Msb3</text></g>
<g id="n46" transform="rotate(6.01)"><rect class="gP" x="829.5" y="-7.5" width="15" height="15"/><text class="l" x="886" dy=".36em">P. aromaticivorans BN5 T</text></g>
<g id="n47" transform="rotate(8.32)"><rect class="gP" x="829.5" y="-7.5" width="15" height="15"/><text class="l" x="886" dy=".36em">P. xenovorans LB400 T</text></g>
<g id="n48" transform="rotate(10.62)"><rect class="gP" x="829.5" y="-7.5" width="15" height="15"/><text class="l" x="886" dy=".36em">P. madseniana RP11 T</text></g>
<g id="n49" transform="rotate(12.92)"><rect class="gP" x="829.5" y="-7.5" width="15" height="15"/><text class="l" x="886" dy=".36em">P. phosphatilytica 7QSK02 T</text></g>
<g id="n50" transform="rotate(15.22)"><rect class="gT" x="829.5" y="-7.5" width="15" height="15"/><text class="l" x="886" dy=".36em">T. dabaoshanensis GIMN1.004 T</text></g>
<g id="n51" transform="rotate(17.52)"><rect class="gT" x="829.5" y="-7.5" width="15" height="15"/><text class="l" x="886" dy=".36em">T. fusca 7MK8-2 T</text></g>
<g id="n52" transform="rotate(19.82)"><rect class="gT" x="829.5" y="-7.5" width="15" height="15"/><text class="l" x="886" dy=".36em">T. dinghuensis DHOM06 T</text></g>
<g id="n53" transform="rotate(22.12)"><rect class="gT" x="829.5" y="-7.5" width="15" height="15"/><text class="l" x="886" dy=".36em">T. soli GP25-8 T</text></g>
<g id="n54" transform="rotate(24.43)"><rect class="gP" x="829.5" y="-7.5" width="15" height="15"/><text class="l" x="886" dy=".36em">P. lacunae S27 T</text></g>
<g id="n55" transform="rotate(26.73)"><rect class="gP" x="829.5" y="-7.5" width="15" height="15"/><text class="l" x="886" dy=".36em">P. madseniana RP11 T</text></g>
<g id="n56" transform="rotate(29.03)"><rect class="gP" x="829.5" y="-7.5" width="15" height="15"/><text class="l" x="886" dy=".36em">P. megapolitana LMG 23650 T</text></g>
<g id="n57" transform="rotate(31.33)"><rect class="gT" x="829.5" y="-7.5" width="15" height="15"/><text class="l" x="886" dy=".36em">T. caryophylli HAMBI_2159 T</text></g>
<g id="n58" transform="rotate(33.63)"><rect class="gP" x="829.5" y="-7.5" width="15" height="15"/><text class="l" x="886" dy=".36em">P. diazotrophica LMG 26031 T</text></g>
<g id="n59" transform="rotate(35.93)"><rect class="gP" x="829.5" y="-7.5" width="15" height="15"/><text class="l" x="886" dy=".36em">P. azotifigens NF 2-5-3 T</text></g>
<g id="n60" transform="rotate(38.23)"><rect class="gP" x="829.5" y="-7.5" width="15" height="15"/><text class="l" x="886" dy=".36em">P. sabiae ABIP630</text></g>
<g id="n61" transform="rotate(40.54)"><rect class="gB" x="829.5" y="-7.5" width="15" height="15"/><text class="l" x="886" dy=".36em">B. ubonensis MSMB22</text></g>
<g id="n62" transform="rotate(42.84)"><rect class="gB" x="829.5" y="-7.5" width="15" height="15"/><text class="l" x="886" dy=".36em">B. stagnalis MSMB735WGS</text></g>
<g id="n63" transform="rotate(45.14)"><rect class="gB" x="829.5" y="-7.5" width="15" height="15"/><text class="l" x="886" dy=".36em">B. pseudomultivorans SUB-INT23-BP2</text></g>
<g id="n64" transform="rotate(47.44)"><rect class="gB" x="829.5" y="-7.5" width="15" height="15"/><text class="l" x="886" dy=".36em">B. multivorans ATCC BAA-247 T</text></g>
<g id="n65" transform="rotate(49.74)"><rect class="gB" x="829.5" y="-7.5" width="15" height="15"/><text class="l" x="886" dy=".36em">B. dolosa AU0158</text></g>
<g id="n66" transform="rotate(52.04)"><rect class="gB" x="829.5" y="-7.5" width="15" height="15"/><text class="l" x="886" dy=".36em">B. vietnamiensis ABIP1335</text></g>
<g id="n67" transform="rotate(54.34)"><rect class="gB" x="829.5" y="-7.5" width="15" height="15"/><text class="l" x="886" dy=".36em">B. vietnamiensis ABIP1335</text></g>
<g id="n68" transform="rotate(56.65)"><rect class="gB" x="829.5" y="-7.5" width="15" height="15"/><text class="l" x="886" dy=".36em">B. latens AU17928</text></g>
<g id="n69" transform="rotate(58.95)"><rect class="gB" x="829.5" y="-7.5" width="15" height="15"/><text class="l" x="886" dy=".36em">B. territorii RF8-non-BP5</text></g>
<g id="n70" transform="rotate(61.25)"><rect class="gB" x="829.5" y="-7.5" width="15" height="15"/><text class="l" x="886" dy=".36em">B. ambifaria AMMD T</text></g>
<g id="n71" transform="rotate(63.55)"><rect class="gB" x="829.5" y="-7.5" width="15" height="15"/><text class="l" x="886" dy=".36em">B. sp. ABIP447</text></g>
<g id="n72" transform="rotate(65.85)"><rect class="gB" x="829.5" y="-7.5" width="15" height="15"/><text class="l" x="886" dy=".36em">B. diffusa RF2-non-BP9</text></g>
<g id="n73" transform="rotate(68.15)"><rect class="gB" x="829.5" y="-7.5" width="15" height="15"/><text class="l" x="886" dy=".36em">B. stabilis ATCC BAA-67 T</text></g>
<g id="n74" transform="rotate(70.45)"><rect class="gB" x="829.5" y="-7.5" width="15" height="15"/><text class="l" x="886" dy=".36em">B. seminalis FL-5-4-10-S1-D7</text></g>
<g id="n75" transform="rotate(72.76)"><rect class="gB" x="829.5" y="-7.5" width="15" height="15"/><text class="l" x="886" dy=".36em">B. pyrrocinia DSM 10685 T</text></g>
<g id="n76" transform="rotate(75.06)"><rect class="gB" x="829.5" y="-7.5" width="15" height="15"/><text class="l" x="886" dy=".36em">B. puraquae CAMPA 1040 T</text></g>
<g id="n77" transform="rotate(77.36)"><rect class="gB" x="829.5" y="-7.5" width="15" height="15"/><text class="l" x="886" dy=".36em">B. metallica FL-6-5-30-S1-D7</text></g>
<g id="n78" transform="rotate(79.66)"><rect class="gB" x="829.5" y="-7.5" width="15" height="15"/><text class="l" x="886" dy=".36em">B. contaminans LMG 23361 T</text></g>
<g id="n79" transform="rotate(81.96)"><rect class="gB" x="829.5" y="-7.5" width="15" height="15"/><text class="l" x="886" dy=".36em">B. anthina AZ-4-2-10-S1-D7</text></g>
<g id="n80" transform="rotate(84.26)"><rect class="gB" x="829.5" y="-7.5" width="15" height="15"/><text class="l" x="886" dy=".36em">B. cenocepacia J2315 T</text></g>
<g id="n81" transform="rotate(86.56)"><rect class="gB" x="829.5" y="-7.5" width="15" height="15"/><text class="l" x="886" dy=".36em">B. servocepacia ABIP444</text></g>
<g id="n82" transform="rotate(88.87)"><rect class="gB" x="829.5" y="-7.5" width="15" height="15"/><text class="l" x="886" dy=".36em">B. servocepacia Tatl-371</text></g>
<g id="n83" transform="rotate(91.17)"><text class="l f" x="-886" dy=".36em" transform="rotate(180)">Ralstonia solanacearum CFBP2957</text></g>
<g id="n84" transform="rotate(93.47)"><rect class="gT" x="829.5" y="-7.5" width="15" height="15"/><text class="l f" x="-886" dy=".36em" transform="rotate(180)">T. dinghuensis DHOM06 T</text></g>
<g id="n85" transform="rotate(95.77)"><rect class="gT" x="829.5" y="-7.5" width="15" height="15"/><text class="l f" x="-886" dy=".36em" transform="rotate(180)">T. dabaoshanensis GIMN1.004 T</text></g>
<g id="n86" transform="rotate(98.07)"><rect class="gP" x="829.5" y="-7.5" width="15" height="15"/><text class="l f" x="-886" dy=".36em" transform="rotate(180)">P. phosphatilytica 7QSK02 T</text></g>
<g id="n87" transform="rotate(100.37)"><rect class="gP" x="829.5" y="-7.5" width="15" height="15"/><text class="l f" x="-886" dy=".36em" transform="rotate(180)">P. phenazinium LMG 2247 T</text></g>
<g id="n88" transform="rotate(102.67)"><rect class="gT" x="829.5" y="-7.5" width="15" height="15"/><text class="l f" x="-886" dy=".36em" transform="rotate(180)">T. caryophylli HAMBI_2159 T</text></g>
<g id="n89" transform="rotate(104.98)"><rect class="gP" x="829.5" y="-7.5" width="15" height="15"/><text class="l f" x="-886" dy=".36em" transform="rotate(180)">B. bonniea BbQS859 T</text></g>
<g id="n90" transform="rotate(107.28)"><rect class="gP" x="829.5" y="-7.5" width="15" height="15"/><text class="l f" x="-886" dy=".36em" transform="rotate(180)">B. hayleyella BhQS11 T</text></g>
<g id="n91" transform="rotate(109.58)"><rect class="gR" x="829.5" y="-7.5" width="15" height="15"/><text class="l f" x="-886" dy=".36em" transform="rotate(180)">R. andropogonis ICMP2807 T</text></g>
<g id="n92" transform="rotate(111.88)"><rect class="gP" x="829.5" y="-7.5" width="15" height="15"/><text class="l f" x="-886" dy=".36em" transform="rotate(180)">P. rhynchosiae WSM 3937 T</text></g>
<g id="n93" transform="rotate(114.18)"><rect class="gP" x="829.5" y="-7.5" width="15" height="15"/><text class="l f" x="-886" dy=".36em" transform="rotate(180)">P. lacunae S27 T</text></g>
<g id="n94" transform="rotate(116.48)"><rect class="gP" x="829.5" y="-7.5" width="15" height="15"/><text class="l f" x="-886" dy=".36em" transform="rotate(180)">P. terricola LMG 20594 T</text></g>
<g id="n95" transform="rotate(118.78)"><rect class="gP" x="829.5" y="-7.5" width="15" height="15"/><text class="l f" x="-886" dy=".36em" transform="rotate(180)">P. sediminicola LMG 24238 T</text></g>
<g id="n96" transform="rotate(121.09)"><rect class="gC" x="829.5" y="-7.5" width="15" height="15"/><text class="l f" x="-886" dy=".36em" transform="rotate(180)">C. calidae LMG 29321 T</text></g>
<g id="n97" transform="rotate(123.39)"><rect class="gB" x="829.5" y="-7.5" width="15" height="15"/><text class="l f" x="-886" dy=".36em" transform="rotate(180)">B. oklahomensis C6786 T</text></g>
<g id="n98" transform="rotate(125.69)"><rect class="gB" x="829.5" y="-7.5" width="15" height="15"/><text class="l f" x="-886" dy=".36em" transform="rotate(180)">B. stagnalis MSMB735WGS</text></g>
<g id="n99" transform="rotate(127.99)"><rect class="gB" x="829.5" y="-7.5" width="15" height="15"/><text class="l f" x="-886" dy=".36em" transform="rotate(180)">B. ubonensis MSMB22</text></g>
<g id="n100" transform="rotate(130.29)"><rect class="gB" x="829.5" y="-7.5" width="15" height="15"/><text class="l f" x="-886" dy=".36em" transform="rotate(180)">B. puraquae CAMPA 1040 T</text></g>
<g id="n101" transform="rotate(132.59)"><rect class="gB" x="829.5" y="-7.5" width="15" height="15"/><text class="l f" x="-886" dy=".36em" transform="rotate(180)">B. thailandensis E264 T</text></g>
<g id="n102" transform="rotate(134.89)"><rect class="gB" x="829.5" y="-7.5" width="15" height="15"/><text class="l f" x="-886" dy=".36em" transform="rotate(180)">B. humptydooensis MSMB122 T</text></g>
<g id="n103" transform="rotate(137.2)"><rect class="gB" x="829.5" y="-7.5" width="15" height="15"/><text class="l f" x="-886" dy=".36em" transform="rotate(180)">B. mallei ATCC 23344 T</text></g>
<g id="n104" transform="rotate(139.5)"><rect class="gB" x="829.5" y="-7.5" width="15" height="15"/><text class="l f" x="-886" dy=".36em" transform="rotate(180)">B. pseudomallei K96243 T</text></g>
<g id="n105" transform="rotate(141.8)"><rect class="gT" x="829.5" y="-7.5" width="15" height="15"/><text class="l f" x="-886" dy=".36em" transform="rotate(180)">T. dinghuensis DHOM06 T</text></g>
<g id="n106" transform="rotate(144.1)"><rect class="gT" x="829.5" y="-7.5" width="15" height="15"/><text class="l f" x="-886" dy=".36em" transform="rotate(180)">T. caryophylli HAMBI_2159 T</text></g>
<g id="n107" transform="rotate(146.4)"><rect class="gB" x="829.5" y="-7.5" width="15" height="15"/><text class="l f" x="-886" dy=".36em" transform="rotate(180)">B. servocepacia ABIP444</text></g>
<g id="n108" transform="rotate(148.7)"><rect class="gR" x="829.5" y="-7.5" width="15" height="15"/><text class="l f" x="-886" dy=".36em" transform="rotate(180)">R. andropogonis ICMP2807 T</text></g>
<g id="n109" transform="rotate(151)"><rect class="gP" x="829.5" y="-7.5" width="15" height="15"/><text class="l f" x="-886" dy=".36em" transform="rotate(180)">P. rhizosphaerae LMG29544</text></g>
<g id="n110" transform="rotate(153.31)"><rect class="gP" x="829.5" y="-7.5" width="15" height="15"/><text class="l f" x="-886" dy=".36em" transform="rotate(180)">P. sp. SOS3</text></g>
<g id="n111" transform="rotate(155.61)"><rect class="gT" x="829.5" y="-7.5" width="15" height="15"/><text class="l f" x="-886" dy=".36em" transform="rotate(180)">T. fusca 7MK8-2 T</text></g>
<g id="n112" transform="rotate(157.91)"><rect class="gT" x="829.5" y="-7.5" width="15" height="15"/><text class="l f" x="-886" dy=".36em" transform="rotate(180)">T. soli GP25-8 T</text></g>
<g id="n113" transform="rotate(160.21)"><rect class="gC" x="829.5" y="-7.5" width="15" height="15"/><text class="l f" x="-886" dy=".36em" transform="rotate(180)">C. udeis LMG 27134 T</text></g>
<g id="n114" transform="rotate(162.51)"><rect class="gP" x="829.5" y="-7.5" width="15" height="15"/><text class="l f" x="-886" dy=".36em" transform="rotate(180)">P. megapolitana LMG 23650 T</text></g>
<g id="n115" transform="rotate(164.81)"><rect class="gP" x="829.5" y="-7.5" width="15" height="15"/><text class="l f" x="-886" dy=".36em" transform="rotate(180)">P. acidipaludis NBRC 101816 T</text></g>
<g id="n116" transform="rotate(167.11)"><rect class="gT" x="829.5" y="-7.5" width="15" height="15"/><text class="l f" x="-886" dy=".36em" transform="rotate(180)">T. dabaoshanensis GIMN1.004 T</text></g>
<g id="n117" transform="rotate(169.42)"><rect class="gB" x="829.5" y="-7.5" width="15" height="15"/><text class="l f" x="-886" dy=".36em" transform="rotate(180)">B. ambifaria AMMD T</text></g>
<g id="n118" transform="rotate(171.72)"><rect class="gB" x="829.5" y="-7.5" width="15" height="15"/><text class="l f" x="-886" dy=".36em" transform="rotate(180)">B. dolosa AU0158</text></g>
<g id="n119" transform="rotate(174.02)"><rect class="gB" x="829.5" y="-7.5" width="15" height="15"/><text class="l f" x="-886" dy=".36em" transform="rotate(180)">B. anthina AZ-4-2-10-S1-D7</text></g>
<g id="n120" transform="rotate(176.32)"><rect class="gP" x="829.5" y="-7.5" width="15" height="15"/><text class="l f" x="-886" dy=".36em" transform="rotate(180)">P. bryophila 376MFSha3.1</text></g>
<g id="n121" transform="rotate(178.62)"><rect class="gP" x="829.5" y="-7.5" width="15" height="15"/><text class="l f" x="-886" dy=".36em" transform="rotate(180)">P. caledonica NBRC 102488 T</text></g>
<g id="n122" transform="rotate(180.92)"><rect class="gP" x="829.5" y="-7.5" width="15" height="15"/><text class="l f" x="-886" dy=".36em" transform="rotate(180)">P. azotifigens NF 2-5-3 T</text></g>
<g id="n123" transform="rotate(183.23)"><rect class="gP" x="829.5" y="-7.5" width="15" height="15"/><text class="l f" x="-886" dy=".36em" transform="rotate(180)">P. sabiae ABIP630</text></g>
<g id="n124" transform="rotate(185.53)"><rect class="gP" x="829.5" y="-7.5" width="15" height="15"/><text class="l f" x="-886" dy=".36em" transform="rotate(180)">P. caribensis ABIP1334</text></g>
<g id="n125" transform="rotate(187.83)"><rect class="gP" x="829.5" y="-7.5" width="15" height="15"/><text class="l f" x="-886" dy=".36em" transform="rotate(180)">P. caribensis MWAP64 T</text></g>
<g id="n126" transform="rotate(190.13)"><rect class="gP" x="829.5" y="-7.5" width="15" height="15"/><text class="l f" x="-886" dy=".36em" transform="rotate(180)">P. sp. ABIP477</text></g>
<g id="n127" transform="rotate(192.43)"><rect class="gP" x="829.5" y="-7.5" width="15" height="15"/><text class="l f" x="-886" dy=".36em" transform="rotate(180)">P. hospita LMG 20598 T</text></g>
<g id="n128" transform="rotate(194.73)"><rect class="gP" x="829.5" y="-7.5" width="15" height="15"/><text class="l f" x="-886" dy=".36em" transform="rotate(180)">P. terrae DSM 17804 T</text></g>
<g id="n129" transform="rotate(197.03)"><rect class="gM" x="829.5" y="-7.5" width="15" height="15"/><text class="l f" x="-886" dy=".36em" transform="rotate(180)">M. endofungorum HKI 456 T</text></g>
<g id="n130" transform="rotate(199.34)"><rect class="gM" x="829.5" y="-7.5" width="15" height="15"/><text class="l f" x="-886" dy=".36em" transform="rotate(180)">M. rhizoxinica HKI 454 T</text></g>
<g id="n131" transform="rotate(201.64)"><rect class="gP" x="829.5" y="-7.5" width="15" height="15"/><text class="l f" x="-886" dy=".36em" transform="rotate(180)">P. kururiensis M130</text></g>
<g id="n132" transform="rotate(203.94)"><rect class="gP" x="829.5" y="-7.5" width="15" height="15"/><text class="l f" x="-886" dy=".36em" transform="rotate(180)">P. ginsengiterrae DCY85 T</text></g>
<g id="n133" transform="rotate(206.24)"><rect class="gP" x="829.5" y="-7.5" width="15" height="15"/><text class="l f" x="-886" dy=".36em" transform="rotate(180)">P. agricolaris BaQS159 T</text></g>
<g id="n134" transform="rotate(208.54)"><rect class="gP" x="829.5" y="-7.5" width="15" height="15"/><text class="l f" x="-886" dy=".36em" transform="rotate(180)">P. phenoliruptrix BR3459a</text></g>
<g id="n135" transform="rotate(210.84)"><rect class="gP" x="829.5" y="-7.5" width="15" height="15"/><text class="l f" x="-886" dy=".36em" transform="rotate(180)">P. graminis C4D1M T</text></g>
<g id="n136" transform="rotate(213.14)"><rect class="gP" x="829.5" y="-7.5" width="15" height="15"/><text class="l f" x="-886" dy=".36em" transform="rotate(180)">P. sediminicola LMG 24238 T</text></g>
<g id="n137" transform="rotate(215.45)"><rect class="gP" x="829.5" y="-7.5" width="15" height="15"/><text class="l f" x="-886" dy=".36em" transform="rotate(180)">P. terricola LMG 20594 T</text></g>
<g id="n138" transform="rotate(217.75)"><rect class="gB" x="829.5" y="-7.5" width="15" height="15"/><text class="l f" x="-886" dy=".36em" transform="rotate(180)">B. singularis LMG 28154 T</text></g>
<g id="n139" transform="rotate(220.05)"><rect class="gB" x="829.5" y="-7.5" width="15" height="15"/><text class="l f" x="-886" dy=".36em" transform="rotate(180)">B. pseudomallei K96243 T</text></g>
<g id="n140" transform="rotate(222.35)"><rect class="gB" x="829.5" y="-7.5" width="15" height="15"/><text class="l f" x="-886" dy=".36em" transform="rotate(180)">B. oklahomensis C6786 T</text></g>
<g id="n141" transform="rotate(224.65)"><rect class="gB" x="829.5" y="-7.5" width="15" height="15"/><text class="l f" x="-886" dy=".36em" transform="rotate(180)">B. plantarii ATCC 43733 T</text></g>
<g id="n142" transform="rotate(226.95)"><rect class="gB" x="829.5" y="-7.5" width="15" height="15"/><text class="l f" x="-886" dy=".36em" transform="rotate(180)">B. glumae LMG 2196 T</text></g>
<g id="n143" transform="rotate(229.25)"><rect class="gB" x="829.5" y="-7.5" width="15" height="15"/><text class="l f" x="-886" dy=".36em" transform="rotate(180)">B. gladioli ABIP2048</text></g>
<g id="n144" transform="rotate(231.56)"><rect class="gB" x="829.5" y="-7.5" width="15" height="15"/><text class="l f" x="-886" dy=".36em" transform="rotate(180)">B. gladioli ABIP2048</text></g>
<g id="n145" transform="rotate(233.86)"><rect class="gB" x="829.5" y="-7.5" width="15" height="15"/><text class="l f" x="-886" dy=".36em" transform="rotate(180)">B. stabilis ATCC BAA-67 T</text></g>
<g id="n146" transform="rotate(236.16)"><rect class="gB" x="829.5" y="-7.5" width="15" height="15"/><text class="l f" x="-886" dy=".36em" transform="rotate(180)">B. contaminans LMG 23361 T</text></g>
<g id="n147" transform="rotate(238.46)"><rect class="gP" x="829.5" y="-7.5" width="15" height="15"/><text class="l f" x="-886" dy=".36em" transform="rotate(180)">P. phosphatilytica 7QSK02 T</text></g>
<g id="n148" transform="rotate(240.76)"><rect class="gC" x="829.5" y="-7.5" width="15" height="15"/><text class="l f" x="-886" dy=".36em" transform="rotate(180)">C. sordidicola LMG 22029</text></g>
<g id="n149" transform="rotate(243.06)"><rect class="gP" x="829.5" y="-7.5" width="15" height="15"/><text class="l f" x="-886" dy=".36em" transform="rotate(180)">P. tropica LMG 22274 T</text></g>
<g id="n150" transform="rotate(245.36)"><rect class="gP" x="829.5" y="-7.5" width="15" height="15"/><text class="l f" x="-886" dy=".36em" transform="rotate(180)">P. phenazinium LMG 2247 T</text></g>
<g id="n151" transform="rotate(247.67)"><rect class="gP" x="829.5" y="-7.5" width="15" height="15"/><text class="l f" x="-886" dy=".36em" transform="rotate(180)">P. aspalathi LMG 27731 T</text></g>
</g>
<g id="asterisks">
<text class="ast" x="1258.8" y="2256">*</text>
<text class="ast" x="1224.2" y="2253">*</text>
<text class="ast" x="1189.8" y="2249">*</text>
<text class="ast" x="1155.6" y="2243.4">*</text>
<text class="ast" x="1121.6" y="2236.5">*</text>
<text class="ast" x="1021.6" y="2207.6">*</text>
<text class="ast" x="926" y="2166.9">*</text>
<text class="ast" x="895.3" y="2150.9">*</text>
</g>
<g id="legend-t3ss">
<text class="lgt" x="872" y="1149">T3SS</text>
<line x1="869" y1="1159" x2="1033" y2="1159" stroke="#000" stroke-width="2"/>
<rect x="868" y="1175" width="61" height="31" fill="#11ff11"/><text class="lg" x="939" y="1201">Hrp-1</text>
<rect x="868" y="1225.4" width="61" height="31" fill="#575757"/><text class="lg" x="939" y="1251.4">Cds</text>
<rect x="868" y="1275.8" width="61" height="31" fill="#a9aba8"/><text class="lg" x="939" y="1301.8">Rhc</text>
<rect x="868" y="1326.2" width="61" height="31" fill="#e6c92c"/><text class="lg" x="939" y="1352.2">Ysc</text>
<rect x="868" y="1376.6" width="61" height="31" fill="#8000ff"/><text class="lg" x="939" y="1402.6">SPI2</text>
<rect x="868" y="1427" width="61" height="31" fill="#ff05b8"/><text class="lg" x="939" y="1453">SPI1</text>
<rect x="868" y="1477.4" width="61" height="31" fill="#2b88e4"/><text class="lg" x="939" y="1503.4">PSI</text>
<rect x="868" y="1527.8" width="61" height="31" fill="#de6b60"/><text class="lg" x="939" y="1553.8">Mad</text>
<rect x="868" y="1578.2" width="61" height="31" fill="#e62a26"/><text class="lg" x="939" y="1604.2">BCI</text>
<rect x="868" y="1628.6" width="61" height="31" fill="#088a2e"/><text class="lg" x="939" y="1654.6">Hrp-2</text>
</g>
<g id="legend-genus">
<text class="lgt" x="1149" y="1333">Genus</text>
<line x1="1143" y1="1344" x2="1494" y2="1344" stroke="#000" stroke-width="2"/>
<rect x="1148" y="1361" width="31" height="31" fill="#b85f08"/><text class="lg" x="1202" y="1386" font-style="italic">Mycetohabitans</text>
<rect x="1148" y="1414" width="31" height="31" fill="#ffcc00"/><text class="lg" x="1202" y="1439" font-style="italic">Robbsia</text>
<rect x="1148" y="1467" width="31" height="31" fill="#c45ff5"/><text class="lg" x="1202" y="1492" font-style="italic">Caballeronia</text>
<rect x="1148" y="1520" width="31" height="31" fill="#5b8cf6"/><text class="lg" x="1202" y="1545" font-style="italic">Trinickia</text>
<rect x="1148" y="1573" width="31" height="31" fill="#f25a78"/><text class="lg" x="1202" y="1598" font-style="italic">Burkholderia</text>
<rect x="1148" y="1626" width="31" height="31" fill="#4ef54e"/><text class="lg" x="1202" y="1651" font-style="italic">Paraburkholderia</text>
</g>
<g id="scale">
<path d="M248 2697H494M248 2689V2705M494 2689V2705M371 2697V2705" stroke="#000" stroke-width="3.5" fill="none"/>
<text class="lgt" x="371" y="2677" text-anchor="middle">0,5</text>
</g>
</svg>
